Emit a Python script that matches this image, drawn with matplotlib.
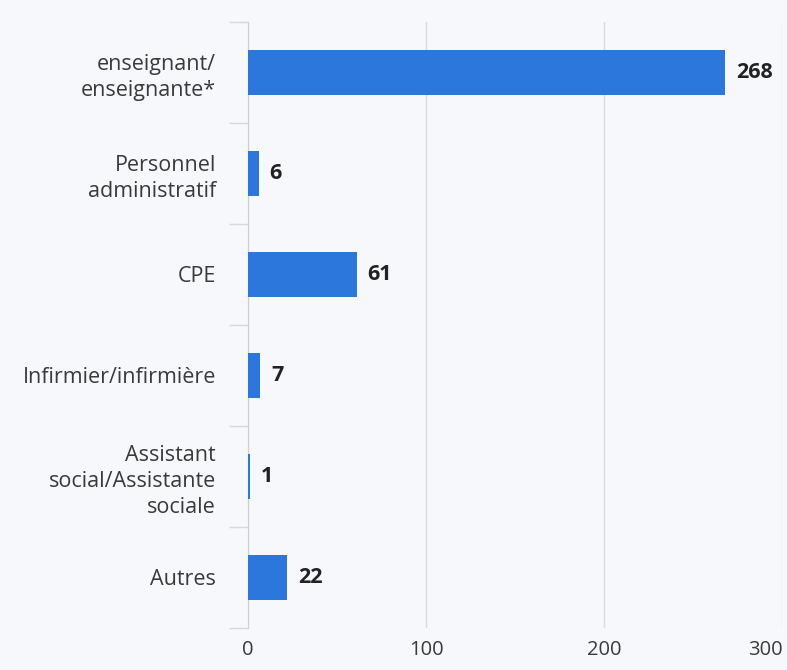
import matplotlib.pyplot as plt
import numpy as np

categories = ["enseignant/\nenseignante*", "Personnel\nadministratif", "CPE",
              "Infirmier/infirmière", "Assistant\nsocial/Assistante\nsociale", "Autres"]
values = [268, 6, 61, 7, 1, 22]
xticks = [0, 100, 200, 300]

plt.rcParams['font.family'] = ['Open Sans', 'DejaVu Sans']
bg = "#f7f8fb"
blue = "#2b77dc"

fig = plt.figure(figsize=(7.87, 6.70), dpi=100, facecolor=bg)
ax = fig.add_axes([0.315, 0.063, 0.679, 0.904], facecolor=bg)

y = np.arange(len(categories))
ax.barh(y, values, height=0.45, color=blue, zorder=3)
for yi, v in zip(y, values):
    ax.annotate(str(v), (v, yi), xytext=(8, 0), textcoords="offset points",
                ha="left", va="center", fontsize=15.5, fontweight="bold",
                color="#222222")

ax.set_ylim(len(categories) - 0.5, -0.5)
ax.set_xlim(0, 300)
ax.set_yticks(y)
ax.set_yticklabels(categories, fontsize=15.5, color="#3a3a3a", linespacing=1.3)
ax.set_yticks(np.arange(len(categories) + 1) - 0.5, minor=True)
ax.tick_params(axis="y", which="major", length=0, pad=23)
ax.tick_params(axis="y", which="minor", length=14, color="#d8d8d8", width=1)

ax.set_xticks(xticks)
ax.set_xticklabels([str(t) for t in xticks], fontsize=14.5, color="#3a3a3a")
ax.tick_params(axis="x", length=0, pad=9)
ax.get_xticklabels()[-1].set_horizontalalignment("right")
ax.xaxis.grid(True, color="#dcdcdc", linewidth=1, zorder=0)

for s in ["top", "right", "bottom"]:
    ax.spines[s].set_visible(False)
ax.spines["left"].set_color("#cfcfcf")
ax.spines["left"].set_zorder(2)

fig.savefig("out.png", dpi=100, facecolor=bg)
